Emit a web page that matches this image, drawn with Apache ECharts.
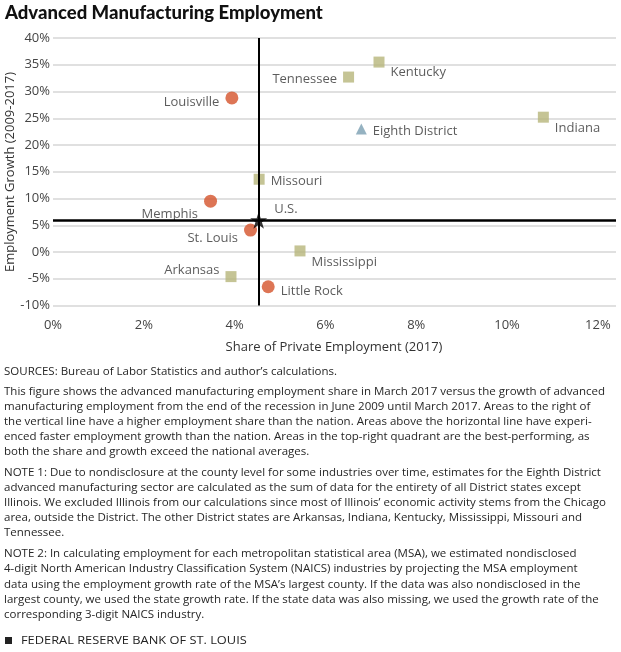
<!DOCTYPE html>
<html>
<head>
<meta charset="utf-8">
<script src="https://cdn.jsdelivr.net/npm/echarts@6/dist/echarts.min.js"></script>
<style>
html,body{margin:0;padding:0;background:#fff;}
#chart{width:621px;height:652px;}
</style>
</head>
<body>
<div id="chart"></div>
<script>
// ---- data ----
const metroNames = ['Louisville', 'Memphis', 'St. Louis', 'Little Rock'];
const metroShare = [3.94, 3.47, 4.35, 4.74];
const metroGrowth = [28.8, 9.5, 4.1, -6.5];

const stateNames = ['Kentucky', 'Tennessee', 'Indiana', 'Missouri', 'Mississippi', 'Arkansas'];
const stateShare = [7.18, 6.51, 10.8, 4.54, 5.44, 3.92];
const stateGrowth = [35.5, 32.7, 25.2, 13.6, 0.2, -4.6];

const districtNames = ['Eighth District'];
const districtShare = [6.79];
const districtGrowth = [23.0];

const usNames = ['U.S.'];
const usShare = [4.53];
const usGrowth = [5.95];

const yTicks = [-10, 40, 5];   // min, max, interval
const xTicks = [0, 12.4, 2];

const titleText = 'Advanced Manufacturing Employment';
const xName = 'Share of Private Employment (2017)';
const yName = 'Employment Growth (2009-2017)';
const footer = 'FEDERAL RESERVE BANK OF ST. LOUIS';

const noteLines = [
  'SOURCES: Bureau of Labor Statistics and author\u2019s calculations.',
  'This figure shows the advanced manufacturing employment share in March 2017 versus the growth of advanced',
  'manufacturing employment from the end of the recession in June 2009 until March 2017. Areas to the right of',
  'the vertical line have a higher employment share than the nation. Areas above the horizontal line have experi-',
  'enced faster employment growth than the nation. Areas in the top-right quadrant are the best-performing, as',
  'both the share and growth exceed the national averages.',
  'NOTE 1: Due to nondisclosure at the county level for some industries over time, estimates for the Eighth District',
  'advanced manufacturing sector are calculated as the sum of data for the entirety of all District states except',
  'Illinois. We excluded Illinois from our calculations since most of Illinois\u2019 economic activity stems from the Chicago',
  'area, outside the District. The other District states are Arkansas, Indiana, Kentucky, Mississippi, Missouri and',
  'Tennessee.',
  'NOTE 2: In calculating employment for each metropolitan statistical area (MSA), we estimated nondisclosed',
  '4-digit North American Industry Classification System (NAICS) industries by projecting the MSA employment',
  'data using the employment growth rate of the MSA\u2019s largest county. If the data was also nondisclosed in the',
  'largest county, we used the state growth rate. If the state data was also missing, we used the growth rate of the',
  'corresponding 3-digit NAICS industry.'
];
const noteY = [372, 392, 407, 422, 437, 452, 473, 488, 503, 518, 533, 554, 569, 585, 600, 615];

// label placement (style only)
const labelPos = {
  'Louisville': ['left', [0, 4]],
  'Memphis': ['left', [0, 13]],
  'St. Louis': ['left', [0, 8]],
  'Little Rock': ['right', [0, 5]],
  'Kentucky': ['right', [0, 10]],
  'Tennessee': ['left', [0, 2]],
  'Indiana': ['right', [0, 11]],
  'Missouri': ['right', [0, 2]],
  'Mississippi': ['right', [0, 11]],
  'Arkansas': ['left', [0, -6]],
  'Eighth District': ['right', [0, 2]],
  'U.S.': ['right', [1, -11]]
};

const FONT = '"Open Sans"';
function pts(names, xs, ys) {
  return names.map((n, i) => ({
    name: n,
    value: [xs[i], ys[i]],
    label: { position: labelPos[n][0], offset: labelPos[n][1] }
  }));
}
const baseLabel = {
  show: true, formatter: '{b}', color: '#333', fontFamily: FONT, fontSize: 13, distance: 6
};

const starPath = 'path://M50,0 L61.8,35.4 L100,35.4 L69.1,57.3 L80.9,92.7 L50,70.8 L19.1,92.7 L30.9,57.3 L0,35.4 L38.2,35.4 Z';

const chart = echarts.init(document.getElementById('chart'), null, { renderer: 'canvas' });

const graphics = [
  {
    type: 'text', x: 5, y: 13,
    style: { text: titleText, font: '900 18.5px Lato', fill: '#111', verticalAlign: 'middle' }
  },
  {
    type: 'text', x: 334, y: 347,
    style: { text: xName, font: '13px ' + FONT, fill: '#333', align: 'center', verticalAlign: 'middle' }
  },
  {
    type: 'text', x: 10, y: 172, rotation: Math.PI / 2,
    style: { text: yName, font: '13px ' + FONT, fill: '#333', align: 'center', verticalAlign: 'middle' }
  }
];
noteLines.forEach((t, i) => {
  graphics.push({
    type: 'text', x: 4, y: noteY[i],
    style: { text: t, font: '11.5px ' + FONT, fill: '#262626', verticalAlign: 'middle' }
  });
});
graphics.push({ type: 'rect', shape: { x: 5, y: 637, width: 7, height: 7 }, style: { fill: '#222' } });
graphics.push({
  type: 'text', x: 21, y: 641, scaleX: 1.22,
  style: { text: footer, font: '10.5px ' + FONT, fill: '#222', verticalAlign: 'middle' }
});

chart.setOption({
  animation: false,
  backgroundColor: '#fff',
  grid: { left: 53, right: 5, top: 38, bottom: 346.5, containLabel: false, outerBoundsMode: 'none' },
  xAxis: {
    type: 'value', min: xTicks[0], max: xTicks[1], interval: xTicks[2],
    axisLine: { show: false }, axisTick: { show: false }, splitLine: { show: false },
    axisLabel: { formatter: '{value}%', showMaxLabel: false, margin: 13, fontFamily: FONT, fontSize: 13, color: '#444' }
  },
  yAxis: {
    type: 'value', min: yTicks[0], max: yTicks[1], interval: yTicks[2],
    axisLine: { show: false }, axisTick: { show: false },
    splitLine: { lineStyle: { color: '#d6d6d6', width: 1.5 } },
    axisLabel: { formatter: '{value}%', margin: 3, fontFamily: FONT, fontSize: 13, color: '#444' }
  },
  graphic: graphics,
  series: [
    {
      type: 'scatter', name: 'guides', data: [],
      markLine: {
        silent: true, symbol: 'none', label: { show: false },
        lineStyle: { color: '#000', type: 'solid', width: 2 },
        data: [
          { xAxis: usShare[0] },
          { yAxis: usGrowth[0], lineStyle: { width: 2.5 } }
        ]
      }
    },
    {
      type: 'scatter', name: 'States', symbol: 'rect', symbolSize: 11,
      itemStyle: { color: '#b6b57a' }, label: baseLabel,
      data: pts(stateNames, stateShare, stateGrowth)
    },
    {
      type: 'scatter', name: 'MSAs', symbol: 'circle', symbolSize: 13,
      itemStyle: { color: '#d5532b' }, label: baseLabel,
      data: pts(metroNames, metroShare, metroGrowth)
    },
    {
      type: 'scatter', name: 'District', symbol: 'triangle', symbolSize: 11,
      itemStyle: { color: '#7b9fb1' }, label: baseLabel,
      data: pts(districtNames, districtShare, districtGrowth)
    },
    {
      type: 'scatter', name: 'US', symbol: starPath, symbolSize: 17, z: 5,
      itemStyle: { color: '#000' }, label: baseLabel,
      data: pts(usNames, usShare, usGrowth)
    }
  ]
});
</script>
</body>
</html>
